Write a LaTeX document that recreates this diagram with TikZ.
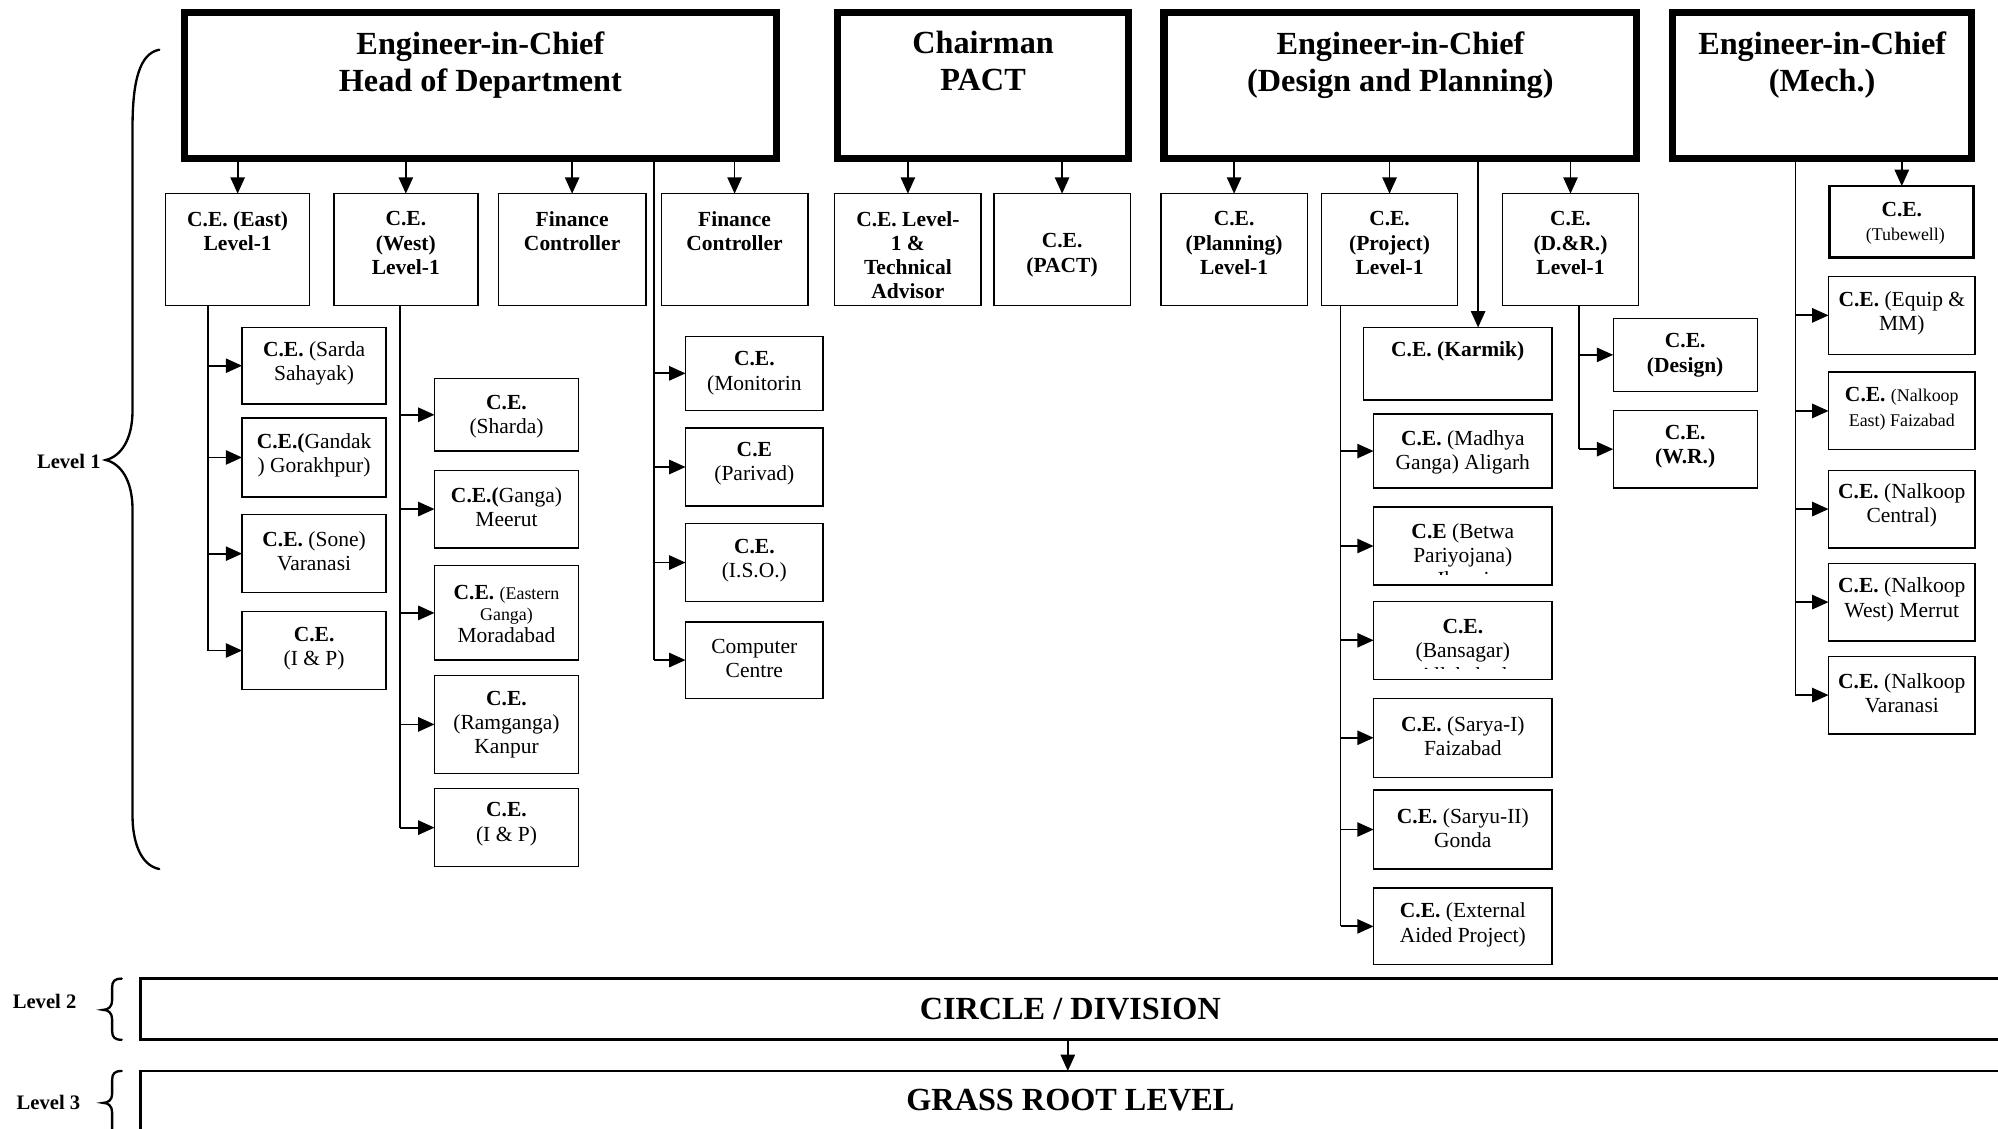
\documentclass[tikz,border=0pt]{standalone}
\usepackage{fontspec}
\setmainfont{Liberation Serif}
\usetikzlibrary{arrows.meta}
% smaller running text inside a box
\newcommand{\sml}[1]{{\fontsize{10}{11.5}\selectfont #1}}
% box with its text: [text style]{box style}{name}{x1}{y1}{x2}{y2}{text y}{text}
\newcommand{\orgbox}[9][]{%
  \node[#2,minimum width={(#6-#4)*0.25mm},minimum height={(#7-#5)*0.25mm}] (#3) at ({(#4+#6)/2},{(#5+#7)/2}) {};
  \begin{scope}
    \clip (#4,#5) rectangle (#6,#7);
    \node[lbl,#1] (#3-t) at ({(#4+#6)/2},#8) {#9};
  \end{scope}}
% box whose text frame is shorter than the box: the last line is cut at {cut y}
% {name}{x1}{y1}{x2}{y2}{text y}{cut y}{text}
\newcommand{\cutbox}[8]{%
  \node[cebox,minimum width={(#4-#2)*0.25mm},minimum height={(#5-#3)*0.25mm}] (#1) at ({(#2+#4)/2},{(#3+#5)/2}) {};
  \begin{scope}
    \clip (#2,#3) rectangle (#4,#7);
    \node[lbl] (#1-t) at ({(#2+#4)/2},#6) {#8};
  \end{scope}}
\begin{document}
\begin{tikzpicture}[x=0.25mm,y=-0.25mm,
  topbox/.style={draw,line width=4pt,inner sep=0pt,outer sep=0pt},
  cebox/.style={draw,line width=0.75pt,inner sep=0pt,outer sep=0pt},
  tubebox/.style={cebox,line width=1.6pt},
  lvlbox/.style={draw,line width=1.5pt,inner sep=0pt,outer sep=0pt},
  lbl/.style={align=center,inner sep=0pt,yshift=-0.45mm,font=\fontsize{12}{13.5}\selectfont},
  bld/.style={font=\fontsize{12}{13.5}\selectfont\bfseries},
  head/.style={font=\fontsize{18}{20.6}\selectfont\bfseries},
  lvlname/.style={inner sep=0pt,font=\fontsize{11.5}{13}\selectfont\bfseries},
  link/.style={line width=1pt},
  arr/.style={link,-{Triangle[length=3.2mm,width=2.8mm]}},
  bracel/.style={line width=1.3pt,line cap=round},
]
\useasboundingbox (0,0) rectangle (1568,886);

% ---------- heads of the four wings ----------
\orgbox[head]{topbox}{eic1}{144.5}{9.5}{609.5}{124.5}{49.5}{Engineer-in-Chief\\Head of Department}
\orgbox[head]{topbox}{chair}{657.5}{9.5}{885.5}{124.5}{46}{Chairman\\PACT}
\orgbox[head]{topbox}{eic2}{913.5}{9.5}{1284.5}{124.5}{49.5}{Engineer-in-Chief\\(Design and Planning)}
\orgbox[head]{topbox}{eic3}{1312.5}{9.5}{1547.5}{124.5}{49.5}{Engineer-in-Chief\\(Mech.)}

% ---------- chief engineers, level 1 ----------
\orgbox[bld]{cebox}{ceeast}{130}{152}{243}{240}{179.5}{C.E. (East)\\Level-1}
\orgbox[bld]{cebox}{cewest}{262}{152}{375}{240}{189}{C.E.\\(West)\\Level-1}
\orgbox[bld]{cebox}{fin1}{391}{152}{507}{240}{179.5}{Finance\\Controller}
\orgbox[bld]{cebox}{fin2}{519}{152}{634}{240}{179.5}{Finance\\Controller}
\orgbox[bld]{cebox}{cetech}{655}{152}{770}{240}{198.5}{C.E. Level-\\1 \&\\Technical\\Advisor}
\orgbox[bld]{cebox}{cepact}{780}{152}{887}{240}{198.5}{C.E.\\(PACT)}
\orgbox[bld]{cebox}{ceplan}{911}{152}{1026}{240}{189}{C.E.\\(Planning)\\Level-1}
\orgbox[bld]{cebox}{ceproj}{1037}{152}{1144}{240}{189}{C.E.\\(Project)\\Level-1}
\orgbox[bld]{cebox}{cedr}{1179}{152}{1286}{240}{189}{C.E.\\(D.\&R.)\\Level-1}
\orgbox[]{tubebox}{cetube}{1436}{146}{1549}{202}{173.5}{\textbf{C.E.}\\\hspace*{4pt}\sml{(Tubewell)}}

\foreach \up/\ch in {eic1/ceeast,eic1/cewest,eic1/fin1,eic1/fin2,
                      chair/cetech,chair/cepact,
                      eic2/ceplan,eic2/ceproj,eic2/cedr,eic3/cetube}
  \draw[arr] (\ch.north |- \up.south) -- (\ch.north);

% ---------- East ----------
\orgbox[]{cebox}{sarda}{190}{257}{303}{317}{283.5}{\textbf{C.E.} (Sarda\\Sahayak)}
\orgbox[]{cebox}{gandak}{190}{328}{303}{390}{355.5}{\textbf{C.E.(}Gandak\\) Gorakhpur)}
\orgbox[]{cebox}{sone}{190}{404}{303}{465}{430.5}{\textbf{C.E.} (Sone)\\Varanasi}
\orgbox[]{cebox}{ipeast}{190}{480}{303}{541}{507.5}{\textbf{C.E.}\\(I \& P)}
\coordinate (eastbus) at (163,240);
\draw[link] (eastbus) -- (eastbus |- ipeast.west);
\foreach \ch in {sarda,gandak,sone,ipeast}
  \draw[arr] (eastbus |- \ch.west) -- (\ch.west);

% ---------- West ----------
\orgbox[]{cebox}{sharda}{341}{297}{454}{354}{325.5}{\textbf{C.E.}\\(Sharda)}
\orgbox[]{cebox}{ganga}{341}{369}{454}{430}{396}{\textbf{C.E.(}Ganga)\\Meerut}
\orgbox[]{cebox}{eganga}{341}{444}{454}{518}{480}{\textbf{C.E.} \sml{(Eastern}\\[-2pt]\sml{Ganga)}\\[-1pt]Moradabad}
\orgbox[]{cebox}{ramganga}{341}{530}{454}{607}{567}{\textbf{C.E.}\\(Ramganga)\\Kanpur}
\orgbox[]{cebox}{ipwest}{341}{619}{454}{680}{645}{\textbf{C.E.}\\(I \& P)}
\coordinate (westbus) at (314,240);
\draw[link] (westbus) -- (westbus |- ipwest.west);
\foreach \ch in {sharda,ganga,eganga,ramganga,ipwest}
  \draw[arr] (westbus |- \ch.west) -- (\ch.west);

% ---------- units under the head of department ----------
\orgbox[]{cebox}{monit}{538}{264}{646}{322}{291}{\textbf{C.E.}\\(Monitorin}
\orgbox[]{cebox}{parivad}{538}{336}{646}{397}{362}{\textbf{C.E}\\(Parivad)}
\orgbox[]{cebox}{iso}{538}{411}{646}{472}{438}{\textbf{C.E.}\\(I.S.O.)}
\orgbox[]{cebox}{compc}{538}{488}{646}{548}{515}{Computer\\Centre}
\coordinate (hodbus) at (513,125);
\draw[link] (hodbus) -- (hodbus |- compc.west);
\foreach \ch in {monit,parivad,iso,compc}
  \draw[arr] (hodbus |- \ch.west) -- (\ch.west);

% ---------- Project ----------
\orgbox[bld]{cebox}{karmik}{1070}{257}{1218}{314}{274}{C.E. (Karmik)}
\orgbox[]{cebox}{madhya}{1078}{325}{1218}{383}{353}{\textbf{C.E.} (Madhya\\Ganga) Aligarh}
\cutbox{betwa}{1078}{398}{1218}{459}{434}{451}{\textbf{C.E} (Betwa\\Pariyojana)\\Jhansi}
\cutbox{bansagar}{1078}{472}{1218}{533}{509}{525}{\textbf{C.E.}\\(Bansagar)\\Allahabad}
\orgbox[]{cebox}{sarya}{1078}{548}{1218}{610}{576}{\textbf{C.E.} (Sarya-I)\\Faizabad}
\orgbox[]{cebox}{saryu}{1078}{620}{1218}{682}{648}{\textbf{C.E.} (Saryu-II)\\Gonda}
\orgbox[]{cebox}{extaid}{1078}{697}{1218}{757}{724}{\textbf{C.E.} (External\\Aided Project)}
\coordinate (dpbus) at (1160,125);
\draw[arr] (dpbus) -- (dpbus |- karmik.north);
\coordinate (projbus) at (1052,240);
\draw[link] (projbus) -- (projbus |- extaid.west);
\foreach \ch in {madhya,betwa,bansagar,sarya,saryu,extaid}
  \draw[arr] (projbus |- \ch.west) -- (\ch.west);

% ---------- D.&R. ----------
\orgbox[bld]{cebox}{design}{1266}{250}{1379}{307}{277}{C.E.\\(Design)}
\orgbox[bld]{cebox}{wr}{1266}{322}{1379}{383}{349}{C.E.\\(W.R.)}
\coordinate (drbus) at (1239,240);
\draw[link] (drbus) -- (drbus |- wr.west);
\foreach \ch in {design,wr}
  \draw[arr] (drbus |- \ch.west) -- (\ch.west);

% ---------- Mechanical ----------
\orgbox[]{cebox}{equip}{1435}{217}{1550}{278}{244}{\textbf{C.E.} (Equip \&\\MM)}
\orgbox[]{cebox}{neast}{1435}{292}{1550}{353}{319}{\textbf{C.E.} \sml{(Nalkoop}\\\sml{East) Faizabad}}
\orgbox[]{cebox}{ncentral}{1435}{369}{1550}{430}{395}{\textbf{C.E.} (Nalkoop\\Central)}
\orgbox[]{cebox}{nwest}{1435}{442}{1550}{503}{469}{\textbf{C.E.} (Nalkoop\\West) Merrut}
\orgbox[]{cebox}{nvar}{1435}{515}{1550}{576}{542}{\textbf{C.E.} (Nalkoop\\Varanasi}
\coordinate (mechbus) at (1409,125);
\draw[link] (mechbus) -- (mechbus |- nvar.west);
\foreach \ch in {equip,neast,ncentral,nwest,nvar}
  \draw[arr] (mechbus |- \ch.west) -- (\ch.west);

% ---------- levels 2 and 3 ----------
\node[lvlbox,minimum width=1500*0.25mm,minimum height=48*0.25mm,anchor=north west] (circle) at (110,768) {};
\node[lvlbox,minimum width=1500*0.25mm,minimum height=80*0.25mm,anchor=north west] (grass) at (110,840.5) {};
\node[head,inner sep=0pt] (circle-t) at (840,792) {CIRCLE / DIVISION};
\node[head,inner sep=0pt] (grass-t) at (840,863.5) {GRASS ROOT LEVEL};
\coordinate (downlink) at (838,816);
\draw[arr] (downlink) -- (downlink |- grass.north);

% ---------- level braces ----------
\draw[bracel] (125,39) .. controls (110,42) and (104,62) .. (104,100) -- (104,322)
  .. controls (104,345) and (95,358) .. (83,361)
  .. controls (95,364) and (104,377) .. (104,400) -- (104,640)
  .. controls (104,660) and (110,679) .. (125,682);
\node[lvlname] (lvl1) at (54,362) {Level 1};

\draw[bracel] (95.5,768) .. controls (90,768) and (88,770) .. (88,775) -- (88,785)
  .. controls (88,790) and (85,792.5) .. (81,792.5)
  .. controls (85,792.5) and (88,795) .. (88,800) -- (88,809)
  .. controls (88,814) and (90,816) .. (95.5,816);
\node[lvlname] (lvl2) at (35,786) {Level 2};

\draw[bracel] (95.5,840.5) .. controls (90,840.5) and (88,842.5) .. (88,847.5) -- (88,858.5)
  .. controls (88,863) and (85,865.5) .. (81,865.5)
  .. controls (85,865.5) and (88,868) .. (88,873) -- (88,900);
\node[lvlname] (lvl3) at (38,865.5) {Level 3};
\end{tikzpicture}
\end{document}
